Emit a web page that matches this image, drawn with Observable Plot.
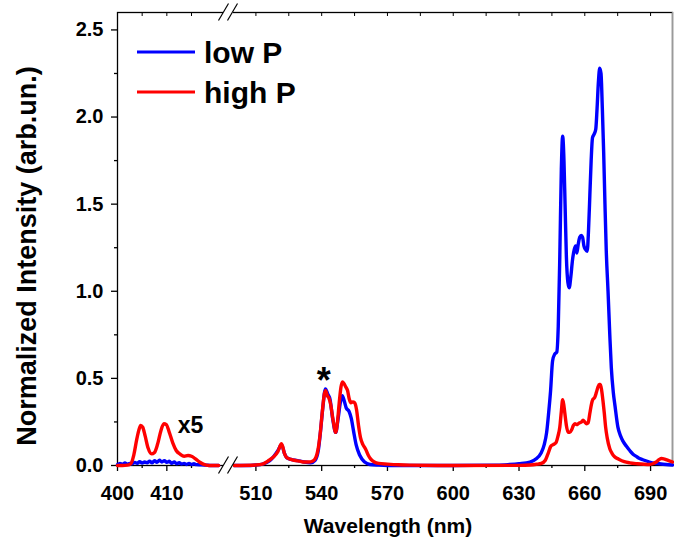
<!DOCTYPE html>
<html><head><meta charset="utf-8">
<script src="https://cdn.jsdelivr.net/npm/d3@7"></script>
<script src="https://cdn.jsdelivr.net/npm/@observablehq/plot@0.6"></script>
<style>body{margin:0;background:#fff}#chart{width:674px;height:549px}</style>
</head><body><div id="chart"></div>
<script>
// ---- data (wavelength nm, normalized intensity); 400-422 nm segment is shown x5 ----
const lowP_left = [[400,0.005],[400.5,0.012],[401,0.008],[401.5,0.014],[402,0.007],[402.5,0.012],[403,0.01],[403.5,0.018],[404,0.012],[404.5,0.022],[405,0.014],[405.5,0.02],[406,0.016],[406.5,0.025],[407,0.015],[407.5,0.028],[408,0.018],[408.5,0.03],[409,0.02],[409.5,0.028],[410,0.018],[410.5,0.024],[411,0.013],[411.5,0.02],[412,0.01],[412.5,0.016],[413,0.008],[413.5,0.012],[414,0.006],[414.5,0.012],[415,0.006],[415.5,0.01],[416,0.005],[417,0.004],[418,0.002],[419,0],[420.5,0]];
const highP_left = [[400,0],[401,0],[402,0.002],[402.7,0.01],[403.3,0.06],[403.9,0.15],[404.3,0.2],[404.7,0.23],[405.1,0.22],[405.6,0.17],[406.2,0.1],[406.9,0.067],[407.5,0.075],[408.1,0.12],[408.8,0.2],[409.4,0.24],[409.9,0.235],[410.5,0.19],[411.2,0.13],[411.9,0.086],[412.7,0.065],[413.5,0.053],[414.3,0.057],[415,0.053],[415.8,0.038],[416.6,0.02],[417.5,0.006],[418.5,0],[420.5,0]];
const lowP_right = [[500,0],[505,0],[510,0.003],[513,0.008],[516,0.025],[518,0.05],[520,0.085],[521.7,0.12],[523,0.07],[524,0.045],[526,0.035],[529,0.028],[532,0.02],[535,0.016],[537,0.03],[538.5,0.09],[539.5,0.2],[540.5,0.33],[541.7,0.44],[542.8,0.41],[543.8,0.38],[545,0.27],[546.4,0.19],[547.5,0.27],[548.5,0.36],[549.4,0.4],[550.3,0.37],[551.2,0.33],[552.5,0.31],[553.5,0.27],[554.5,0.2],[555.7,0.12],[557.3,0.06],[559.6,0.02],[562,0.006],[566,0.002],[570,0],[600,0],[620,0.002],[625,0.005],[630,0.01],[635,0.02],[638,0.04],[640,0.07],[641.5,0.12],[642.6,0.19],[643.5,0.3],[644.4,0.43],[645.3,0.6],[646.3,0.64],[647.2,0.65],[647.9,0.8],[648.6,1.2],[649.3,1.7],[649.9,1.89],[650.5,1.75],[651,1.5],[651.6,1.2],[652.3,1.05],[652.9,1.02],[653.6,1.08],[654.4,1.18],[655.2,1.24],[655.8,1.26],[656.4,1.22],[657,1.27],[657.7,1.31],[658.4,1.32],[659,1.31],[659.6,1.26],[660.3,1.24],[661.1,1.23],[661.7,1.35],[662.3,1.55],[662.9,1.75],[663.5,1.88],[664.2,1.9],[665,1.93],[665.6,2.05],[666.2,2.2],[666.8,2.28],[667.4,2.25],[668,2.05],[668.6,1.8],[669.2,1.5],[669.8,1.23],[670.6,1],[671.4,0.75],[672.1,0.56],[673,0.42],[673.8,0.34],[675.1,0.22],[676.3,0.17],[677.4,0.14],[679,0.11],[680.5,0.086],[682,0.065],[683.5,0.052],[685,0.04],[686.5,0.033],[689.5,0.02],[692,0.013],[694,0.01],[697,0.006],[700,0.003]];
const highP_right = [[500,0],[510,0.003],[513,0.008],[516,0.03],[518.3,0.052],[520,0.08],[521.7,0.125],[523,0.07],[524,0.046],[526,0.035],[527.4,0.03],[530,0.025],[532,0.02],[534,0.02],[536,0.026],[537.3,0.045],[538.3,0.09],[539.3,0.18],[540.3,0.31],[541.2,0.41],[541.8,0.43],[542.6,0.4],[543.2,0.39],[544.1,0.35],[545.2,0.26],[546.4,0.19],[547.2,0.25],[548,0.36],[548.8,0.45],[549.4,0.48],[550.2,0.47],[551,0.45],[551.8,0.43],[552.6,0.38],[553.3,0.36],[554.2,0.365],[555,0.36],[555.9,0.32],[556.8,0.23],[557.7,0.16],[558.8,0.12],[560,0.095],[561.2,0.06],[562.3,0.038],[564,0.02],[566,0.012],[570,0.008],[575,0.004],[580,0.002],[600,0],[630,0.001],[635,0.003],[638,0.007],[640.2,0.012],[642,0.03],[643.2,0.067],[644.5,0.11],[645.6,0.12],[646.8,0.13],[647.8,0.17],[648.6,0.22],[649.3,0.31],[649.9,0.377],[650.4,0.35],[650.9,0.3],[651.6,0.23],[652.4,0.19],[653.2,0.19],[654,0.205],[654.8,0.23],[655.5,0.24],[656.3,0.235],[657,0.24],[657.7,0.245],[658.5,0.25],[659.2,0.26],[660,0.25],[660.8,0.24],[661.5,0.245],[662.3,0.3],[663,0.35],[663.7,0.38],[664.5,0.39],[665.3,0.42],[666,0.45],[666.6,0.465],[667.1,0.465],[667.7,0.43],[668.3,0.37],[668.9,0.3],[669.5,0.22],[670.2,0.16],[671.4,0.096],[672.4,0.07],[673.6,0.05],[675.5,0.036],[678,0.022],[680.5,0.015],[684,0.01],[687,0.007],[689.5,0.006],[691,0.01],[692.6,0.02],[694,0.035],[695,0.04],[696,0.038],[697,0.034],[698.5,0.027],[700,0.02]];

const seriesNames = ["low P", "high P"];
const seriesColors = ["#0000ff", "#ff0000"];
const xMajorTicks = [400, 410, 510, 540, 570, 600, 630, 660, 690];
const xMinorTicks = [405, 415, 525, 555, 585, 615, 645, 675];
const yMajorTicks = [0, 0.5, 1.0, 1.5, 2.0, 2.5];
const yMinorTicks = [0.25, 0.75, 1.25, 1.75, 2.25];
const axisBreak = [422.5, 497.5];
const xLabel = "Wavelength (nm)";
const yLabel = "Normalized Intensity (arb.un.)";
const annotations = [{w: 412.2, v: 0.23, text: "x5"}, {w: 540.9, v: 0.48, text: "*"}];

// ---- build table ----
const rows = [];
[[0, "L", lowP_left], [0, "R", lowP_right], [1, "L", highP_left], [1, "R", highP_right]].forEach(([s, seg, arr]) => {
  arr.forEach(([w, v]) => rows.push({series: seriesNames[s], seg: seriesNames[s] + seg, w, v}));
});

const FONT = "'Liberation Sans', Arial, sans-serif";
const W = 674, H = 549, mL = 117, mR = 2, mT = 12, mB = 84;
const xb = mL + 111;

const plot = Plot.plot({
  width: W, height: H,
  marginLeft: mL, marginRight: mR, marginTop: mT, marginBottom: mB,
  style: {fontFamily: FONT, fontSize: "20px", fontWeight: "bold", color: "black", background: "white", overflow: "visible"},
  x: {type: "linear", domain: [400, axisBreak[0], axisBreak[1], 700], range: [mL, xb, xb, W - mR]},
  y: {domain: [0, 2.6], range: [H - mB, mT]},
  marks: [
    Plot.axisY({ticks: yMajorTicks, tickFormat: d3.format(".1f"), tickSize: 6, tickPadding: 8, label: null, strokeWidth: 1.3}),
    Plot.axisY({ticks: yMinorTicks, tickSize: 3, text: null, label: null, strokeWidth: 1.3}),
    Plot.axisX({ticks: xMajorTicks, tickFormat: d => String(d), tickSize: 6, tickPadding: 14, label: null, strokeWidth: 1.3}),
    Plot.axisX({ticks: xMinorTicks, tickSize: 3, text: null, label: null, strokeWidth: 1.3}),
    Plot.axisX({anchor: "top", ticks: xMajorTicks.concat(xMinorTicks), tickSize: -3, text: null, label: null, strokeWidth: 1}),
    Plot.frame({stroke: "black", strokeWidth: 1.3}),
    Plot.ruleX([700], {stroke: "#9a9a9a", strokeWidth: 1.3}),
    Plot.line(rows.filter(d => d.series === "low P"), {x: "w", y: "v", z: "seg", stroke: seriesColors[0], strokeWidth: 3.4, curve: "monotone-x"}),
    Plot.line(rows.filter(d => d.series === "high P"), {x: "w", y: "v", z: "seg", stroke: seriesColors[1], strokeWidth: 3.4, curve: "monotone-x"}),
    Plot.text(annotations.filter(a => a.text === "x5"), {x: "w", y: "v", text: "text", fontSize: 23, textAnchor: "start", fill: "black"}),
    Plot.text(annotations.filter(a => a.text === "*"), {x: "w", y: "v", text: "text", fontSize: 36, textAnchor: "middle", fill: "black"}),
    Plot.text([xLabel], {frameAnchor: "bottom", textAnchor: "middle", dx: -7, dy: 67, fontSize: 21, fill: "black"}),
    Plot.text([yLabel], {frameAnchor: "left", textAnchor: "middle", rotate: -90, dx: -90, dy: 17, fontSize: 27, fill: "black"})
  ]
});

document.getElementById("chart").appendChild(plot);

// axis-break marks, placed from the x scale
const sx = plot.scale("x");
const bx = sx.apply(axisBreak[0]);
const svg = d3.select(plot);
const brk = svg.append("g");
[H - mB, mT].forEach(yy => {
  brk.append("rect").attr("x", bx - 5).attr("y", yy - 3).attr("width", 10).attr("height", 6).attr("fill", "white");
  [-4.5, 4.5].forEach(off => {
    brk.append("line").attr("x1", bx + off - 5).attr("y1", yy + 8.5).attr("x2", bx + off + 5).attr("y2", yy - 8.5)
      .attr("stroke", "black").attr("stroke-width", 1.2);
  });
});

// legend (inside frame, top-left)
const leg = svg.append("g").attr("font-family", FONT).attr("font-weight", "bold").attr("font-size", 30).attr("text-anchor", "start");
seriesNames.forEach((name, i) => {
  const yy = 52 + i * 40;
  leg.append("line").attr("x1", 137).attr("x2", 195).attr("y1", yy).attr("y2", yy).attr("stroke", seriesColors[i]).attr("stroke-width", 3);
  leg.append("text").attr("x", 204).attr("y", yy).attr("dy", "0.35em").attr("fill", "black").attr("text-anchor", "start").text(name);
});
</script>
</body></html>
